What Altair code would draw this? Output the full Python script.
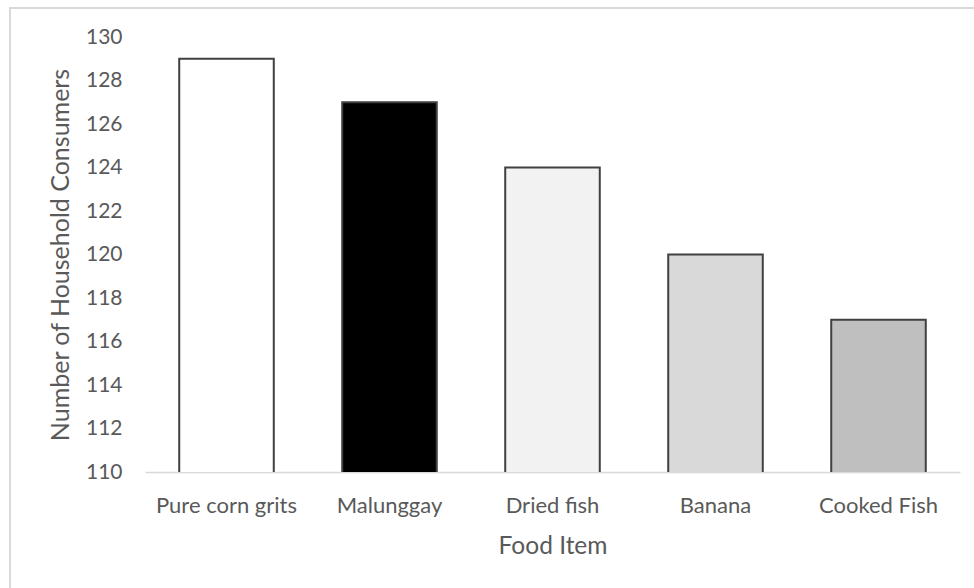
import altair as alt
import pandas as pd

# Food items and how many households consume each
foods = ["Pure corn grits", "Malunggay", "Dried fish", "Banana", "Cooked Fish"]
consumers = [129, 127, 124, 120, 117]
fills = ["#ffffff", "#000000", "#f2f2f2", "#d9d9d9", "#bfbfbf"]
y_ticks = [110, 112, 114, 116, 118, 120, 122, 124, 126, 128, 130]

df = pd.DataFrame({"food": foods, "consumers": consumers, "fill": fills})

FONT = "Lato"
TEXT = "#595959"

bars = alt.Chart(df).mark_bar(
    stroke="#404040", strokeWidth=2, clip=True
).encode(
    x=alt.X(
        "food:N",
        sort=foods,
        scale=alt.Scale(paddingInner=0.42, paddingOuter=0.21),
        axis=alt.Axis(
            title="Food Item",
            labelAngle=0,
            labelFont=FONT,
            labelFontSize=22,
            labelColor=TEXT,
            labelPadding=23,
            ticks=False,
            domainColor="#d9d9d9",
            domainWidth=1.5,
            titleFont=FONT,
            titleFontSize=24.5,
            titleFontWeight="normal",
            titleColor=TEXT,
            titlePadding=18,
        ),
    ),
    y=alt.Y(
        "consumers:Q",
        scale=alt.Scale(domain=[110, 130], nice=False, zero=False),
        axis=alt.Axis(
            title="Number of Household Consumers",
            values=y_ticks,
            format="d",
            grid=False,
            domain=False,
            ticks=False,
            labelFont=FONT,
            labelFontSize=21,
            labelColor=TEXT,
            labelPadding=23,
            titleFont=FONT,
            titleFontSize=25,
            titleFontWeight="normal",
            titleColor=TEXT,
            titlePadding=12,
        ),
    ),
    fill=alt.Fill("fill:N", scale=None, legend=None),
)

# light outer frame around the whole figure
frame = alt.Chart(df).mark_rect(
    fill=None, stroke="#d9d9d9", strokeWidth=2
).encode(
    x=alt.value(-135), x2=alt.value(900),
    y=alt.value(-29), y2=alt.value(700),
)

chart = alt.layer(frame, bars).properties(
    width=815,
    height=435,
    autosize=alt.AutoSizeParams(type="none"),
    padding={"left": 145, "top": 37, "right": 14, "bottom": 116},
    background="white",
).configure_view(stroke=None)

chart.save("out.html", embed_options={"renderer": "svg", "actions": False})
